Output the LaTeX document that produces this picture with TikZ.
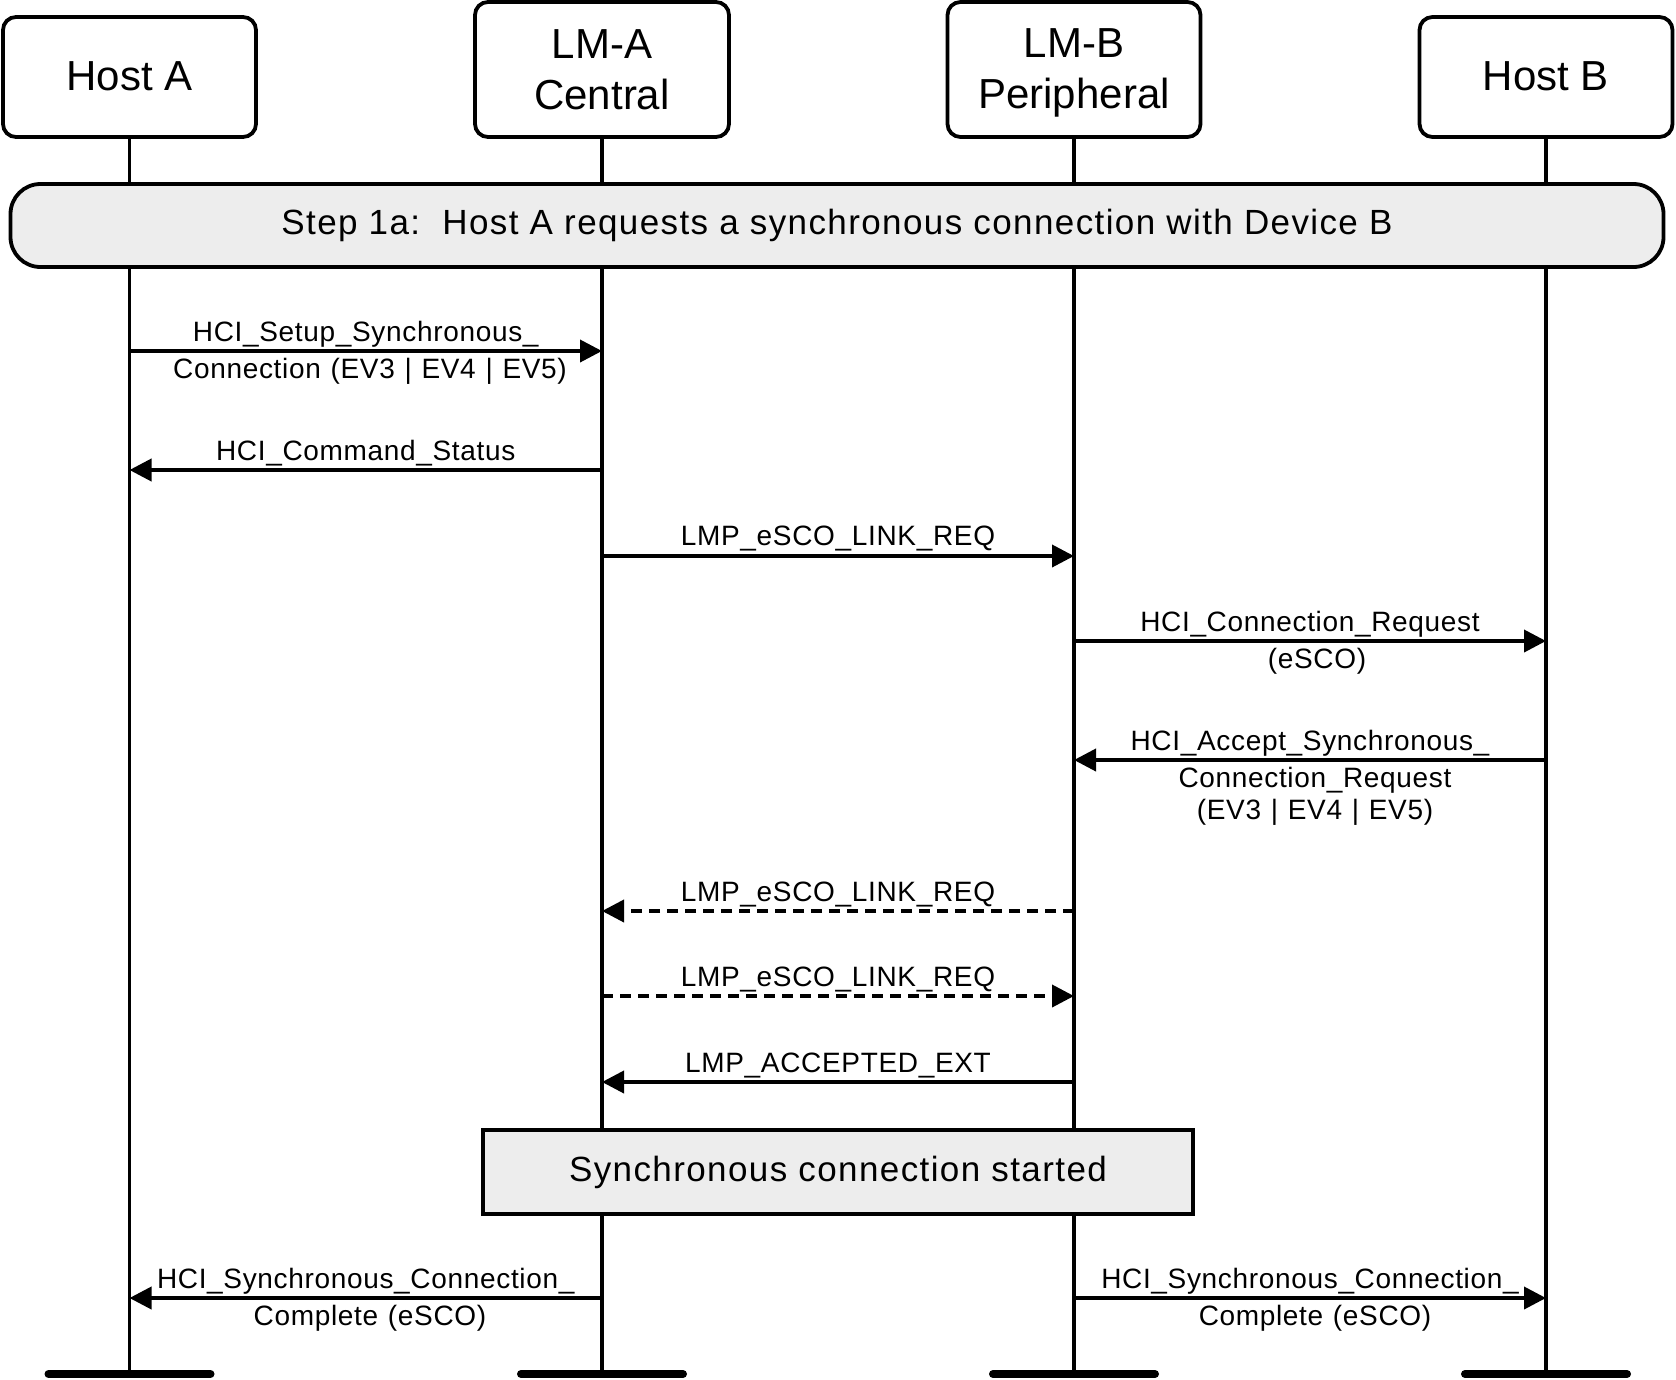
\documentclass[tikz,border=0pt]{standalone}
\usepackage{fontspec}
\setmainfont{Liberation Sans}
\newfontfamily\bannerfont[LetterSpace=4, WordSpace=1.15]{Liberation Sans}
\newfontfamily\statefont[LetterSpace=4]{Liberation Sans}
\newfontfamily\lblfont[LetterSpace=2.4, WordSpace=1.15]{Liberation Sans}
\usetikzlibrary{arrows.meta}
\tikzset{
  actor/.style={draw, line width=3.8pt, rounded corners=13pt, fill=white, inner sep=0pt,
    align=center, font=\fontsize{42}{51}\selectfont},
  banner/.style={draw, line width=3.8pt, rounded corners=30pt, fill=black!7, inner sep=0pt,
    font=\bannerfont\fontsize{35}{42}\selectfont},
  statebox/.style={draw, line width=3.8pt, fill=black!7, inner sep=0pt,
    font=\statefont\fontsize{35}{42}\selectfont},
  life/.style={line width=3.8pt},
  endbar/.style={line width=8pt, line cap=round},
  msg/.style={line width=3.8pt, -{Triangle[length=22pt,width=22pt]}},
  dmsg/.style={msg, dash pattern=on 11pt off 7pt},
  lbl/.style={anchor=base, inner sep=0pt, font=\lblfont\fontsize{28}{32}\selectfont},
}
\begin{document}
\begin{tikzpicture}[x=1pt,y=-1pt]
\useasboundingbox (0,0) rectangle (1676,1379);
% actors
\node[actor, minimum width=253pt, minimum height=120pt] (ha) at (129.5,77) {\raisebox{1pt}[\height][\depth]{Host A}};
\node[actor, minimum width=254pt, minimum height=135pt] (la) at (602,69.5) {LM-A\\Central};
\node[actor, minimum width=253pt, minimum height=135pt] (lb) at (1074,69.5) {\raisebox{-3pt}[\height][\depth]{LM-B}\\\raisebox{-3pt}[\height][\depth]{Peripheral}};
\node[actor, minimum width=253pt, minimum height=120pt] (hb) at (1546,77) {\raisebox{1pt}[\height][\depth]{Host B}};
% lifeline ends
\coordinate (ea) at (129.5,1374);
\coordinate (eb) at (602,1374);
\coordinate (ec) at (1074,1374);
\coordinate (ed) at (1546,1374);
\draw[life] (ha.south) -- (ea);
\draw[life] (la.south) -- (eb);
\draw[life] (lb.south) -- (ec);
\draw[life] (hb.south) -- (ed);
\draw[endbar] ([xshift=-81pt]ea) -- ([xshift=81pt]ea);
\draw[endbar] ([xshift=-81pt]eb) -- ([xshift=81pt]eb);
\draw[endbar] ([xshift=-81pt]ec) -- ([xshift=81pt]ec);
\draw[endbar] ([xshift=-81pt]ed) -- ([xshift=81pt]ed);
% banner
\node[banner, minimum width=1653pt, minimum height=83pt] (step) at (837,225.5)
  {Step 1a:\ \ Host A requests a synchronous connection with Device B};
% messages
\draw[msg] (ha.south |- 0,351) -- (la.south |- 0,351);
\node[lbl] (m1a) at (365.75,341) {HCI\_Setup\_Synchronous\_};
\node[lbl] (m1b) at (370,378) {Connection (EV3 | EV4 | EV5)};

\draw[msg] (la.south |- 0,470) -- (ha.south |- 0,470);
\node[lbl] (m2) at (365.75,460) {HCI\_Command\_Status};

\draw[msg] (la.south |- 0,556) -- (lb.south |- 0,556);
\node[lbl] (m3) at (838,545) {LMP\_eSCO\_LINK\_REQ};

\draw[msg] (lb.south |- 0,641) -- (hb.south |- 0,641);
\node[lbl] (m4a) at (1310,631) {HCI\_Connection\_Request};
\node[lbl] (m4b) at (1317,668) {(eSCO)};

\draw[msg] (hb.south |- 0,760) -- (lb.south |- 0,760);
\node[lbl] (m5a) at (1310,750) {HCI\_Accept\_Synchronous\_};
\node[lbl] (m5b) at (1315,787) {Connection\_Request};
\node[lbl] (m5c) at (1315,819) {(EV3 | EV4 | EV5)};

\draw[dmsg] (lb.south |- 0,911) -- (la.south |- 0,911);
\node[lbl] (m6) at (838,901) {LMP\_eSCO\_LINK\_REQ};

\draw[dmsg] (la.south |- 0,996) -- (lb.south |- 0,996);
\node[lbl] (m7) at (838,986) {LMP\_eSCO\_LINK\_REQ};

\draw[msg] (lb.south |- 0,1082) -- (la.south |- 0,1082);
\node[lbl] (m8) at (838,1072) {LMP\_ACCEPTED\_EXT};

% state box
\node[statebox, minimum width=710pt, minimum height=84pt] (sync) at (838,1172)
  {Synchronous connection started};

\draw[msg] (la.south |- 0,1298) -- (ha.south |- 0,1298);
\node[lbl] (m9a) at (365.75,1288) {HCI\_Synchronous\_Connection\_};
\node[lbl] (m9b) at (370,1325) {Complete (eSCO)};

\draw[msg] (lb.south |- 0,1298) -- (hb.south |- 0,1298);
\node[lbl] (m10a) at (1310,1288) {HCI\_Synchronous\_Connection\_};
\node[lbl] (m10b) at (1315,1325) {Complete (eSCO)};
\end{tikzpicture}
\end{document}
